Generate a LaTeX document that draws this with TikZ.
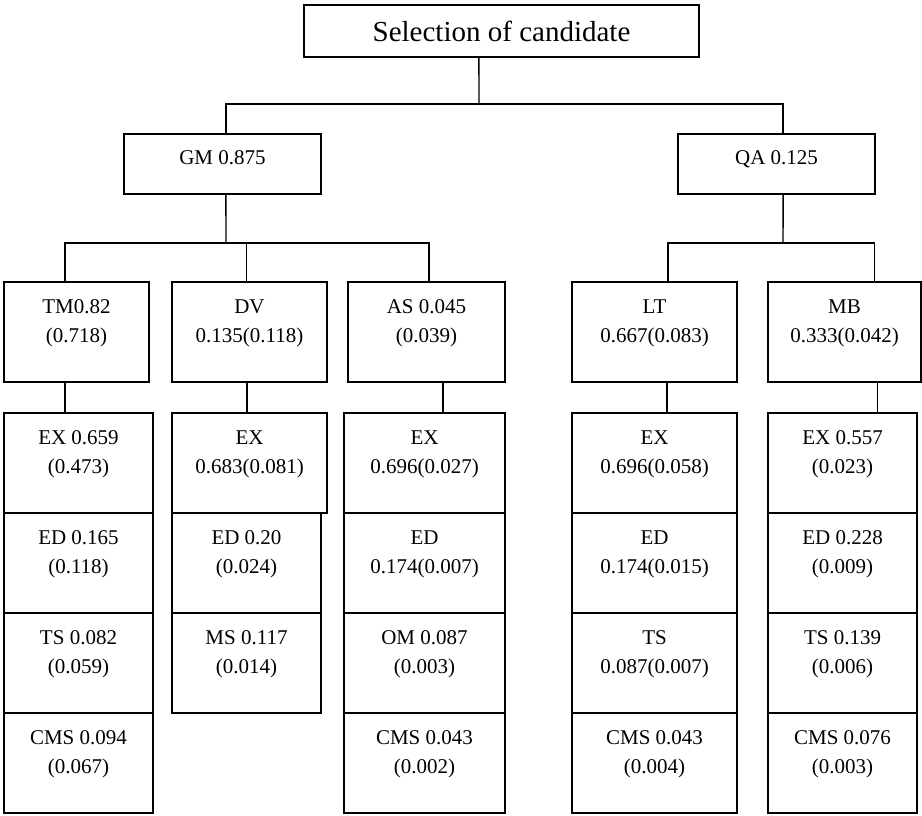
\documentclass[tikz,border=0pt]{standalone}
\usepackage{fontspec}
\setmainfont{Liberation Serif}

\tikzset{every picture/.style={line width=0.75pt}}
\tikzset{
  box/.style={draw, line width=1.3pt, inner sep=0pt, outer sep=0pt, anchor=north west, minimum height=75pt},
  boxtext/.style={anchor=north, inner sep=0pt, align=center, yshift=-12.75pt, font=\fontsize{15.75}{21.75}\selectfont},
  wire/.style={line width=1.1pt},
}

\begin{document}
\begin{tikzpicture}[x=0.75pt,y=0.75pt,yscale=-1,xscale=1]
    \useasboundingbox (0,0) rectangle (922,815);

    %Shape: Rectangle (root)
    \node [draw, line width=1.3pt, inner sep=0pt, outer sep=0pt, minimum width=296.25pt, minimum height=39pt, font=\fontsize{21.75}{26}\selectfont] (sel) at (501.5,31) {Selection of candidate};

    %Shape: Rectangle (criteria)
    \node [box, minimum width=147.75pt, minimum height=45pt] (gm) at (124,134) {};
    \node [boxtext, yshift=0.75pt] (gm-t) at (gm.north) {GM 0.875};
    \node [box, minimum width=147.75pt, minimum height=45pt] (qa) at (678,134) {};
    \node [boxtext, yshift=0.75pt] (qa-t) at (qa.north) {QA 0.125};

    %Shape: Rectangle (sub-criteria)
    \node [box, minimum width=108.75pt] (tm) at (4,282) {};
    \node [boxtext] (tm-t) at (tm.north) {TM0.82\\(0.718)};
    \node [box, minimum width=116.25pt] (dv) at (172,282) {};
    \node [boxtext] (dv-t) at (dv.north) {DV\\0.135(0.118)};
    \node [box, minimum width=117.75pt] (as) at (348,282) {};
    \node [boxtext] (as-t) at (as.north) {AS 0.045\\(0.039)};
    \node [box, minimum width=123.75pt] (lt) at (572,282) {};
    \node [boxtext] (lt-t) at (lt.north) {LT\\0.667(0.083)};
    \node [box, minimum width=114.75pt] (mb) at (768,282) {};
    \node [boxtext] (mb-t) at (mb.north) {MB\\0.333(0.042)};

    %Shape: Rectangle (TM column)
    \node [box, minimum width=111.75pt] (tmex) at (4,413) {};
    \node [boxtext] (tmex-t) at (tmex.north) {EX 0.659\\(0.473)};
    \node [box, minimum width=111.75pt] (tmed) at (tmex.south west) {};
    \node [boxtext] (tmed-t) at (tmed.north) {ED 0.165\\(0.118)};
    \node [box, minimum width=111.75pt] (tmts) at (tmed.south west) {};
    \node [boxtext] (tmts-t) at (tmts.north) {TS 0.082\\(0.059)};
    \node [box, minimum width=111.75pt] (tmcms) at (tmts.south west) {};
    \node [boxtext] (tmcms-t) at (tmcms.north) {CMS 0.094\\(0.067)};

    %Shape: Rectangle (DV column)
    \node [box, minimum width=116.25pt] (dvex) at (172,413) {};
    \node [boxtext] (dvex-t) at (dvex.north) {EX\\0.683(0.081)};
    \node [box, minimum width=111.75pt] (dved) at (dvex.south west) {};
    \node [boxtext] (dved-t) at (dved.north) {ED 0.20\\(0.024)};
    \node [box, minimum width=111.75pt] (dvms) at (dved.south west) {};
    \node [boxtext] (dvms-t) at (dvms.north) {MS 0.117\\(0.014)};

    %Shape: Rectangle (AS column)
    \node [box, minimum width=120.75pt] (asex) at (344,413) {};
    \node [boxtext] (asex-t) at (asex.north) {EX\\0.696(0.027)};
    \node [box, minimum width=120.75pt] (ased) at (asex.south west) {};
    \node [boxtext] (ased-t) at (ased.north) {ED\\0.174(0.007)};
    \node [box, minimum width=120.75pt] (asom) at (ased.south west) {};
    \node [boxtext] (asom-t) at (asom.north) {OM 0.087\\(0.003)};
    \node [box, minimum width=120.75pt] (ascms) at (asom.south west) {};
    \node [boxtext] (ascms-t) at (ascms.north) {CMS 0.043\\(0.002)};

    %Shape: Rectangle (LT column)
    \node [box, minimum width=123.75pt] (ltex) at (572,413) {};
    \node [boxtext] (ltex-t) at (ltex.north) {EX\\0.696(0.058)};
    \node [box, minimum width=123.75pt] (lted) at (ltex.south west) {};
    \node [boxtext] (lted-t) at (lted.north) {ED\\0.174(0.015)};
    \node [box, minimum width=123.75pt] (ltts) at (lted.south west) {};
    \node [boxtext] (ltts-t) at (ltts.north) {TS\\0.087(0.007)};
    \node [box, minimum width=123.75pt] (ltcms) at (ltts.south west) {};
    \node [boxtext] (ltcms-t) at (ltcms.north) {CMS 0.043\\(0.004)};

    %Shape: Rectangle (MB column)
    \node [box, minimum width=111.75pt] (mbex) at (768,413) {};
    \node [boxtext] (mbex-t) at (mbex.north) {EX 0.557\\(0.023)};
    \node [box, minimum width=111.75pt] (mbed) at (mbex.south west) {};
    \node [boxtext] (mbed-t) at (mbed.north) {ED 0.228\\(0.009)};
    \node [box, minimum width=111.75pt] (mbts) at (mbed.south west) {};
    \node [boxtext] (mbts-t) at (mbts.north) {TS 0.139\\(0.006)};
    \node [box, minimum width=111.75pt] (mbcms) at (mbts.south west) {};
    \node [boxtext] (mbcms-t) at (mbcms.north) {CMS 0.076\\(0.003)};

    %Straight Lines (root to criteria)
    \coordinate (j0) at (479,104);
    \draw [wire] ([xshift=-16.9pt]sel.south) -- (j0);
    \draw [wire] ([xshift=2.6pt]gm.north) |- (j0) -| ([xshift=4.9pt]qa.north);

    %Straight Lines (GM to sub-criteria)
    \coordinate (j1) at (226,243);
    \draw [wire] ([xshift=2.6pt]gm.south) -- (j1);
    \draw [wire] ([xshift=-8.6pt]tm.north) |- (j1) -| ([xshift=1.9pt]as.north);
    \draw [wire] ([xshift=-2.25pt]dv.north) -- ([xshift=-2.25pt]dv.north |- j1);

    %Straight Lines (QA to sub-criteria)
    \coordinate (j2) at (783,243);
    \draw [wire] ([xshift=4.9pt]qa.south) -- (j2);
    \draw [wire] ([xshift=10.1pt]lt.north) |- (j2) -| ([xshift=22.5pt]mb.north);

    %Straight Lines (sub-criteria to columns)
    \draw [wire] ([xshift=-8.6pt]tm.south) -- ([xshift=-8.6pt]tm.south |- tmex.north);
    \draw [wire] ([xshift=-1.9pt]dv.south) -- ([xshift=-1.9pt]dv.south |- dvex.north);
    \draw [wire] ([xshift=12.4pt]as.south) -- ([xshift=12.4pt]as.south |- asex.north);
    \draw [wire] ([xshift=9.4pt]lt.south) -- ([xshift=9.4pt]lt.south |- ltex.north);
    \draw [wire] ([xshift=24.75pt]mb.south) -- ([xshift=24.75pt]mb.south |- mbex.north);

\end{tikzpicture}
\end{document}
